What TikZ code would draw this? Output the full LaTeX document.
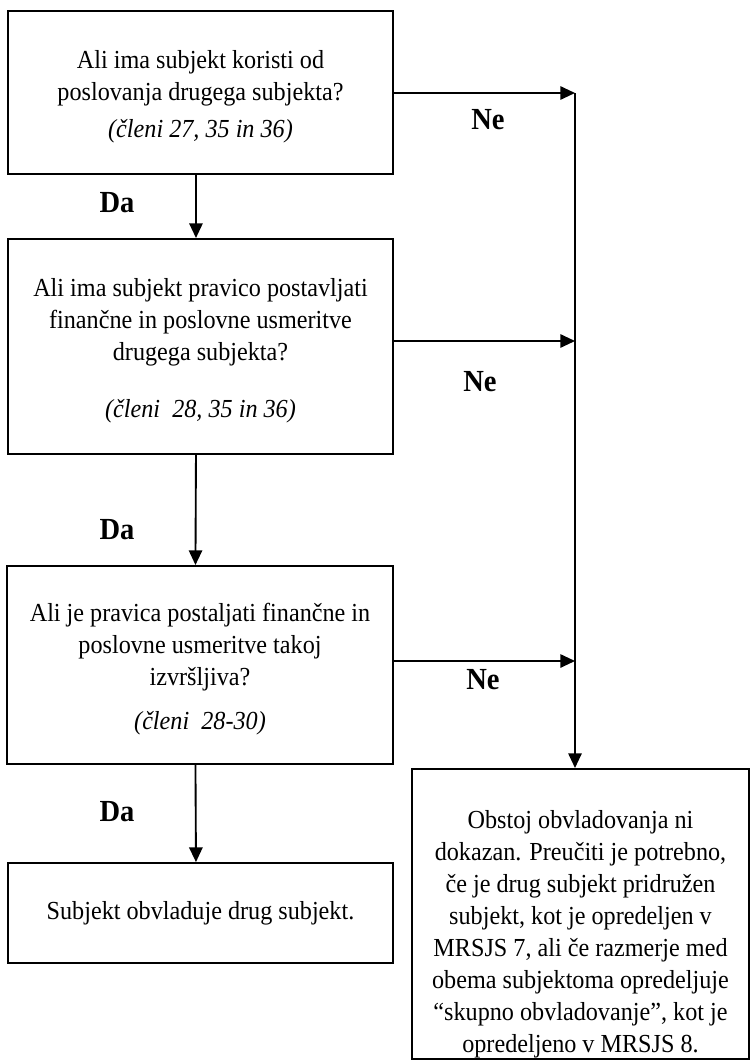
\documentclass[tikz,border=0pt]{standalone}
\usepackage{fontspec}
\setmainfont{Liberation Serif}[FakeStretch=0.93]
\usetikzlibrary{arrows.meta,positioning}

\begin{document}
\begin{tikzpicture}[
      x=0.75pt,
      y=-0.75pt,
      >={Triangle[length=11pt,width=10pt]},
      flow/.style={->, line width=1.4pt},
      box/.style={draw, line width=1.4pt, align=center, inner sep=0pt,
        minimum width=289pt, font=\fontsize{19.5}{24}\selectfont},
      answer/.style={font=\fontsize{23}{24}\selectfont\bfseries}
    ]
    \useasboundingbox (0,0) rectangle (750,1060);

    % text height runs up to the last line's baseline
    \node[box, anchor=north, text height=95.25pt, text depth=27pt] (q1) at (200.5,10)
      {Ali ima subjekt koristi od\\poslovanja drugega subjekta?\\[4pt]
       \textit{(členi 27, 35 in 36)}};
    \node[box, anchor=north, text height=134.25pt, text depth=27pt] (q2) at (200.5,238)
      {Ali ima subjekt pravico postavljati\\finančne in poslovne usmeritve\\
       drugega subjekta?\\[19pt]\textit{(členi\ \ 28, 35 in 36)}};
    \node[box, anchor=north, text height=123pt, text depth=25.5pt] (q3) at (200,565)
      {Ali je pravica postaljati finančne in\\poslovne usmeritve takoj\\
       izvršljiva?\\[9pt]\textit{(členi\ \ 28-30)}};
    \node[box, minimum height=75pt] (yes) at (200.5,913)
      {Subjekt obvladuje drug subjekt.};
    \node[box, anchor=north, minimum width=252.75pt, text height=213pt,
      text depth=4.5pt] (no) at (580.5,768)
      {Obstoj obvladovanja ni\\dokazan. Preučiti je potrebno,\\
       če je drug subjekt pridružen\\subjekt, kot je opredeljen v\\
       MRSJS 7, ali če razmerje med\\obema subjektoma opredeljuje\\
       “skupno obvladovanje”, kot je\\opredeljeno v MRSJS 8.};

    % Da
    \draw[flow] ([xshift=-3.4pt]q1.south) -- ([xshift=-3.4pt]q2.north);
    \draw[flow] ([xshift=-3.4pt]q2.south) -- ([xshift=-3.4pt]q3.north);
    \draw[flow] ([xshift=-3.4pt]q3.south) -- ([xshift=-3.4pt]yes.north);
    \node[answer] (da1) at (117,203) {Da};
    \node[answer] (da2) at (117,530) {Da};
    \node[answer] (da3) at (117,812) {Da};

    % Ne
    \coordinate (rail) at (575,93);
    \draw[flow] (q1.east |- rail) -- (rail);
    \draw[flow] (q2.east |- 0,341) -- (rail |- 0,341);
    \draw[flow] (q3.east |- 0,661) -- (rail |- 0,661);
    \draw[flow] (rail) -- (rail |- no.north);
    \node[answer] (ne1) at (488,120) {Ne};
    \node[answer] (ne2) at (480,382) {Ne};
    \node[answer] (ne3) at (483,680) {Ne};
  \end{tikzpicture}
\end{document}
